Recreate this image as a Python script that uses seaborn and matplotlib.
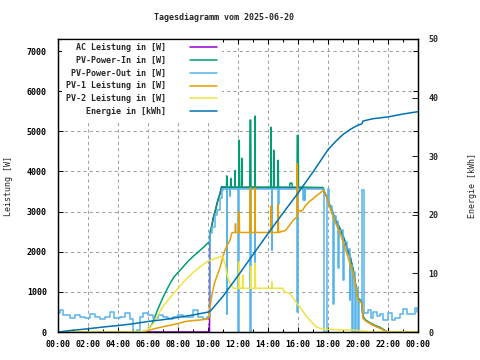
import matplotlib
matplotlib.use("Agg")
import matplotlib.pyplot as plt
import pandas as pd
import seaborn as sns

sns.set_theme(style="ticks")
plt.rcParams['font.family'] = ['DejaVu Sans Mono', 'DejaVu Sans']
plt.rcParams['font.size'] = 6
plt.rcParams['font.weight'] = 'bold'

# values, (time, watt) pairs
ac_leistung = [("00:00", 0), ("10:06", 0), ("10:07", 2440), ("10:15", 2640), ("10:22", 2860),
               ("10:30", 3040), ("10:40", 3290), ("10:48", 3440), ("10:54", 3600), ("17:40", 3590),
               ("17:45", 3470), ("17:55", 3370), ("18:05", 3190), ("18:15", 3030), ("18:30", 2790),
               ("18:48", 2570), ("19:05", 2310), ("19:15", 2110), ("19:30", 1840), ("19:41", 1530),
               ("19:50", 1190), ("20:00", 830), ("20:14", 770), ("20:20", 370), ("20:30", 290),
               ("20:48", 220), ("21:10", 150), ("21:28", 105), ("21:45", 45), ("21:55", 5),
               ("22:00", 0), ("24:00", 0)]

pv_power_in = [("00:00", 0), ("05:30", 0), ("05:50", 20), ("06:00", 50), ("06:15", 180), ("06:30", 420),
               ("06:45", 650), ("07:00", 860), ("07:15", 1050), ("07:30", 1230), ("07:45", 1380),
               ("08:00", 1480), ("08:20", 1620), ("08:40", 1760), ("09:00", 1880), ("09:20", 1990),
               ("09:40", 2100), ("10:00", 2220), ("10:06", 2240), ("10:08", 2460), ("10:15", 2650),
               ("10:22", 2870), ("10:30", 3050), ("10:40", 3300), ("10:48", 3450), ("10:54", 3620),
               ("11:14", 3610), ("11:15", 3890), ("11:16", 3610), ("11:30", 3610), ("11:31", 3830),
               ("11:32", 3610), ("11:47", 3610), ("11:48", 4020), ("11:49", 3610), ("12:04", 3610),
               ("12:05", 4780), ("12:06", 3610), ("12:14", 3610), ("12:15", 4330), ("12:16", 3610),
               ("12:47", 3610), ("12:48", 5280), ("12:51", 5280), ("12:52", 3610), ("13:07", 3610),
               ("13:08", 5380), ("13:09", 3610), ("14:11", 3610), ("14:12", 5100), ("14:13", 3610),
               ("14:22", 3610), ("14:23", 4530), ("14:24", 3610), ("14:40", 3610), ("14:41", 4280),
               ("14:42", 3610), ("15:27", 3610), ("15:28", 3710), ("15:36", 3710), ("15:37", 3610),
               ("15:56", 3610), ("15:57", 4900), ("16:01", 4900), ("16:02", 3610),
               ("17:40", 3600), ("17:45", 3480), ("17:55", 3380), ("18:05", 3200), ("18:15", 3040),
               ("18:30", 2800), ("18:48", 2580), ("19:05", 2320), ("19:15", 2120), ("19:30", 1850),
               ("19:41", 1540), ("19:50", 1200), ("20:00", 840), ("20:14", 780), ("20:20", 380),
               ("20:30", 300), ("20:48", 230), ("21:10", 160), ("21:28", 115), ("21:45", 50),
               ("21:55", 8), ("22:00", 0), ("24:00", 0)]

pv_power_out = [("00:00", 465), ("00:08", 548), ("00:21", 415), ("00:48", 340), ("01:08", 415),
                ("01:28", 380), ("01:48", 340), ("02:08", 440), ("02:28", 380), ("02:48", 315),
                ("03:08", 365), ("03:28", 505), ("03:45", 340), ("04:08", 365), ("04:28", 465),
                ("04:48", 315), ("05:01", 8), ("05:15", 50), ("05:28", 380), ("05:41", 465),
                ("06:01", 415), ("06:21", 340), ("06:41", 415), ("07:01", 365), ("07:21", 315),
                ("07:41", 380), ("08:01", 415), ("08:21", 380), ("08:35", 365), ("09:01", 550),
                ("09:21", 365), ("09:41", 315), ("09:55", 365), ("10:07", 2460), ("10:15", 2620),
                ("10:28", 2910), ("10:35", 3040), ("10:48", 3330), ("10:55", 3540), ("11:00", 3570),
                ("11:15", 460), ("11:16", 3570), ("11:28", 3400), ("11:29", 3570), ("12:01", 0),
                ("12:05", 3570), ("12:48", 0), ("12:51", 3570), ("13:08", 1300), ("13:09", 3570),
                ("14:15", 2040), ("14:16", 3570), ("14:41", 3200), ("14:42", 3570), ("15:57", 505),
                ("16:01", 3570), ("16:21", 3290), ("16:22", 3570), ("16:28", 3290), ("16:29", 3570),
                ("17:44", 0), ("17:56", 3380), ("18:01", 3560), ("18:02", 3150), ("18:15", 3000),
                ("18:21", 700), ("18:22", 2900), ("18:30", 2760), ("18:41", 1590), ("18:42", 2480),
                ("18:48", 2540), ("19:01", 1300), ("19:02", 2250), ("19:15", 2080), ("19:28", 800),
                ("19:29", 1680), ("19:35", 0), ("19:38", 1500), ("19:48", 0), ("19:51", 1100),
                ("20:01", 0), ("20:03", 780), ("20:15", 3540), ("20:24", 470), ("20:41", 550),
                ("20:51", 360), ("21:01", 505), ("21:15", 400), ("21:28", 440), ("21:41", 300),
                ("22:01", 465), ("22:15", 300), ("22:28", 360), ("22:48", 440), ("23:01", 565),
                ("23:15", 440), ("23:35", 440), ("23:48", 600), ("23:55", 505), ("24:00", 505)]

pv1_leistung = [("00:00", 0), ("05:28", 0), ("05:45", 20), ("06:08", 50), ("06:30", 90), ("07:00", 130),
                ("07:30", 170), ("08:00", 210), ("08:28", 260), ("09:00", 285), ("09:30", 300),
                ("09:55", 320), ("10:04", 365), ("10:08", 630), ("10:15", 900), ("10:25", 1200),
                ("10:35", 1380), ("10:48", 1600), ("11:00", 1875), ("11:08", 2040), ("11:20", 2200),
                ("11:28", 2290), ("11:35", 2460), ("11:40", 2480), ("11:49", 2480), ("11:50", 2700),
                ("11:51", 2480), ("12:04", 2480), ("12:05", 3000), ("12:06", 2480), ("12:47", 2480),
                ("12:48", 3590), ("12:51", 3590), ("12:52", 2480), ("13:07", 2480), ("13:08", 3590),
                ("13:09", 2480), ("14:11", 2480), ("14:12", 3140), ("14:13", 2480), ("14:40", 2480),
                ("14:41", 3180), ("14:42", 2480), ("15:10", 2530), ("15:25", 2650), ("15:40", 2780),
                ("15:56", 2870), ("15:57", 4200), ("15:59", 3000), ("16:01", 3050), ("16:10", 3000),
                ("16:20", 3050), ("16:30", 3150), ("16:45", 3250), ("17:00", 3320), ("17:15", 3400),
                ("17:30", 3470), ("17:40", 3520), ("17:48", 3480), ("17:55", 3370), ("18:05", 3150),
                ("18:15", 2960), ("18:30", 2720), ("18:48", 2460), ("19:00", 2250), ("19:15", 1960),
                ("19:28", 1700), ("19:41", 1460), ("19:50", 1150), ("20:00", 800), ("20:08", 760),
                ("20:15", 715), ("20:20", 340), ("20:30", 280), ("20:48", 215), ("21:10", 140),
                ("21:28", 92), ("21:45", 40), ("21:55", 8), ("22:00", 0), ("24:00", 0)]

pv2_leistung = [("00:00", 0), ("05:20", 0), ("05:40", 10), ("06:00", 60), ("06:22", 216), ("06:45", 480),
                ("07:00", 640), ("07:30", 870), ("08:00", 1090), ("08:30", 1300), ("09:00", 1480),
                ("09:30", 1630), ("09:55", 1750), ("10:15", 1800), ("10:30", 1840), ("10:50", 1875),
                ("11:00", 1870), ("11:08", 1700), ("11:15", 1460), ("11:22", 1300), ("11:28", 1220),
                ("11:40", 1090), ("12:04", 1090), ("12:05", 1750), ("12:06", 1090), ("12:18", 1090),
                ("12:19", 1420), ("12:20", 1090), ("12:51", 1090), ("12:52", 1630), ("12:53", 1090),
                ("13:08", 1090), ("13:09", 1720), ("13:10", 1090), ("14:14", 1090), ("14:15", 1250),
                ("14:16", 1090), ("15:00", 1090), ("15:05", 1000), ("15:28", 960), ("15:55", 715),
                ("16:10", 600), ("16:35", 380), ("17:00", 210), ("17:12", 130), ("17:30", 90),
                ("17:55", 67), ("18:30", 60), ("19:28", 50), ("20:00", 40), ("20:37", 8),
                ("21:00", 0), ("24:00", 0)]

# kWh
energie = [("00:00", 0.0), ("01:00", 0.3), ("02:00", 0.55), ("03:00", 0.85), ("04:00", 1.1),
           ("05:00", 1.4), ("06:00", 1.8), ("07:00", 2.1), ("08:00", 2.5), ("09:00", 2.9),
           ("10:00", 3.4), ("10:10", 3.6), ("11:00", 6.1), ("12:00", 9.6), ("13:00", 13.2),
           ("14:00", 16.8), ("15:00", 20.3), ("16:00", 23.7), ("17:00", 27.3), ("18:00", 31.1),
           ("18:30", 32.5), ("19:00", 33.7), ("19:30", 34.6), ("20:00", 35.3), ("20:15", 35.5),
           ("20:20", 36.0), ("21:00", 36.4), ("22:00", 36.7), ("23:00", 37.2), ("24:00", 37.6)]

x_ticks = list(range(0, 25, 2))
x_ticklabels = ["00:00", "02:00", "04:00", "06:00", "08:00", "10:00", "12:00",
                "14:00", "16:00", "18:00", "20:00", "22:00", "00:00"]

# label, data, colour, drawstyle
series = [
    ("AC Leistung in [W]", ac_leistung, "#9400d3", "default"),
    ("PV-Power-In in [W]", pv_power_in, "#009e73", "default"),
    ("PV-Power-Out in [W]", pv_power_out, "#56b4e9", "steps-post"),
    ("PV-1 Leistung in [W]", pv1_leistung, "#e69f00", "default"),
    ("PV-2 Leistung in [W]", pv2_leistung, "#f0e442", "default"),
]


def to_frame(pairs):
    df = pd.DataFrame(pairs, columns=["zeit", "wert"])
    hm = df.zeit.str.split(":", expand=True).astype(int)
    df["stunde"] = hm[0] + hm[1] / 60
    return df


fig, ax = plt.subplots(figsize=(4.8, 3.6), dpi=100)
fig.subplots_adjust(left=58/480, right=418/480, bottom=1-332/360, top=1-39/360)

for label, pairs, color, style in series:
    sns.lineplot(data=to_frame(pairs), x="stunde", y="wert", ax=ax, color=color,
                 lw=1.1, drawstyle=style, estimator=None, label=label.rjust(20))

ax2 = ax.twinx()
sns.lineplot(data=to_frame(energie), x="stunde", y="wert", ax=ax2, color="#0072b2",
             lw=1.1, estimator=None, label="Energie in [kWh]".rjust(20))

ax.set_xlim(0, 24)
ax.set_ylim(0, 7300)
ax2.set_ylim(0, 50)
ax.set_xticks(x_ticks)
ax.set_xticklabels(x_ticklabels)
ax.set_xticks(range(0, 25), minor=True)
ax.set_yticks(range(0, 7001, 1000))
ax2.set_yticks(range(0, 51, 10))

ax.grid(True, which="major", color="#a0a0a0", lw=0.75, ls=(0, (3, 3)))
ax.tick_params(axis="both", which="both", direction="in", top=True, right=True,
               colors="black", labelsize=6, width=0.75)
ax.tick_params(axis="x", which="major", length=3.5, pad=6)
ax.tick_params(axis="x", which="minor", length=2.5)
ax.tick_params(axis="y", length=3.5, pad=8)
ax2.tick_params(axis="y", direction="in", length=4, pad=7.5, labelsize=6, width=0.75)

for a in (ax, ax2):
    for sp in a.spines.values():
        sp.set_color("black")
        sp.set_linewidth(0.9)
        sp.set_zorder(10)

ax.set_xlabel("")
ax.set_ylabel("Leistung [W]", fontsize=6)
ax2.set_ylabel("Energie [kWh]", fontsize=6)
ax.yaxis.set_label_coords(-0.126, 0.5)
ax2.yaxis.set_label_coords(1.14, 0.5)

h1, l1 = ax.get_legend_handles_labels()
h2, l2 = ax2.get_legend_handles_labels()
ax.get_legend().remove()
ax2.get_legend().remove()
leg = ax2.legend(h1 + h2, l1 + l2, loc="upper left", bbox_to_anchor=(0.01, 1), borderaxespad=0,
                 markerfirst=False, frameon=True, fancybox=False, framealpha=1,
                 edgecolor="none", facecolor="white", handlelength=3.3, handletextpad=2.9,
                 labelspacing=0.45, borderpad=0.5,
                 prop={"family": "DejaVu Sans Mono", "size": 6, "weight": "bold"})
for line in leg.get_lines():
    line.set_linewidth(1.1)

fig.text(224/480, 1 - 18/360, "Tagesdiagramm vom 2025-06-20", ha="center", va="center",
         fontsize=6, fontweight="bold")

fig.savefig("out.png", dpi=100)
